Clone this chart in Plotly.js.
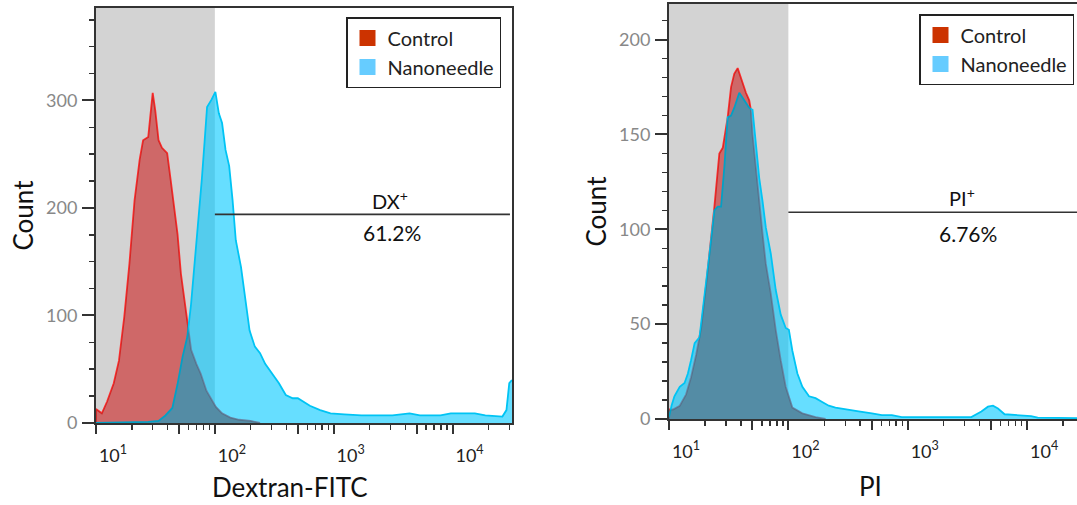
<!DOCTYPE html>
<html><head><meta charset="utf-8">
<script src="https://cdn.plot.ly/plotly-3.0.1.min.js"></script>
<style>html,body{margin:0;padding:0;background:#fff;} #chart{width:1077px;height:505px;}</style>
</head><body><div id="chart"></div>
<script>
// ---- data ----
const seriesNames = ['Control', 'Nanoneedle'];

const dxControlX = [10, 10, 11.2, 12.4, 14.1, 15.6, 17.3, 19.1, 21.1, 23.3, 24.9, 27.5, 28.8, 30.0, 31.5, 33.6, 35.9, 39.7, 42.5, 45.4, 48.5, 51.8, 55.4, 59.2, 63.2, 69.9, 76, 85, 93, 102, 115, 135, 160, 200, 240];
const dxControlY = [0, 13, 9, 20, 37, 58, 99, 148, 207, 245, 263, 266, 288, 307, 291, 263, 256, 251, 226, 201, 176, 139, 114, 89, 68, 55, 46, 30, 22, 15, 9, 5, 3, 2, 0];

const dxNanoX = [10, 27.5, 33.6, 38.4, 43.9, 48.5, 53.6, 58.6, 63, 67, 72.3, 77.6, 82, 86, 94, 101, 108, 115, 123, 132, 141, 150, 166, 180, 196, 217, 240, 265, 303, 346, 395, 452, 499, 551, 630, 769, 940, 1227, 1712, 2388, 3117, 4349, 5309, 7914, 9660, 15400, 18850, 26260, 28400, 30000, 31600];
const dxNanoY = [0, 1, 2, 7, 14, 36, 62, 80, 110, 142, 185, 226, 262, 294, 301, 308, 288, 279, 254, 239, 207, 170, 145, 114, 86, 71, 65, 55, 46, 37, 26, 23, 23, 20, 16, 12, 9, 8, 7, 7, 7, 9, 7, 7, 9, 9, 7, 6, 12, 37, 40];

const piControlX = [10, 10, 10.8, 12.3, 13.9, 15.3, 16.9, 18.6, 20.5, 22.5, 24.0, 26.4, 28.2, 30.1, 31.0, 33.1, 35.2, 37.6, 40.8, 44.1, 47.0, 48.5, 50.1, 53.4, 57.0, 60.7, 64.7, 71.3, 78.4, 86.3, 95.0, 108, 131, 169, 205];
const piControlY = [0, 5, 5, 7, 13, 22, 34, 48, 71, 94, 112, 140, 143, 154, 159, 175, 182, 185, 178, 172, 168, 163, 150, 131, 115, 98, 82, 66, 47, 31, 17, 6, 3, 1, 0];

const piNanoX = [10, 10.5, 11.1, 12.3, 13.5, 14.4, 15.3, 16.4, 18.0, 19.2, 20.5, 22.5, 24.0, 25.6, 27.3, 29.1, 31.0, 33.1, 35.2, 37.6, 38.8, 42.7, 47.0, 50.1, 53.4, 57.0, 60.7, 64.7, 71.3, 78.4, 86.3, 95.0, 101, 108, 119, 131, 149, 169, 192, 218, 248, 300, 388, 501, 607, 736, 891, 1227, 1690, 2643, 3412, 4140, 4700, 5180, 5700, 6480, 8360, 10800, 12270, 18000, 26200];
const piNanoY = [1, 7, 12, 17, 19, 24, 31, 40, 43, 57, 74, 94, 110, 112, 112, 133, 159, 160, 164, 170, 172, 168, 164, 163, 143, 127, 115, 101, 87, 68, 55, 48, 47, 36, 24, 17, 12, 11, 9, 7, 6, 5, 4, 3, 2, 2, 1, 1, 1, 1, 1, 4, 6.5, 7, 5.5, 2.5, 2, 1.5, 0.7, 0.5, 0.5];

const xMajorTicks = [10, 50, 100, 500, 1000, 5000, 10000];
const xMajorLabels = ['10<sup>1</sup>', '', '10<sup>2</sup>', '', '10<sup>3</sup>', '', '10<sup>4</sup>'];
const xMinorTicks = [20, 30, 40, 60, 70, 80, 90, 200, 300, 400, 600, 700, 800, 900, 2000, 3000, 4000, 6000, 7000, 8000, 9000, 20000, 30000];

const gateLow = 100;
const dxGateLabel = 'DX<sup>+</sup>', dxGatePct = '61.2%';
const piGateLabel = 'PI<sup>+</sup>', piGatePct = '6.76%';
const dxTitle = 'Dextran-FITC', piTitle = 'PI', countTitle = 'Count';

// ---- styling ----
const FONT = 'Lato, "Open Sans", sans-serif';
const W = 1077, H = 505;
const ctrlFill = 'rgb(255,125,128)', ctrlLine = '#ff2d2d';
const nanoFill = 'rgba(0,200,255,0.6)', nanoLine = '#00c4f4';
const overlapShade = 'rgba(15,20,10,0.2)';
const legCtrl = '#cc3300', legNano = '#66ccff';
const axisCol = '#333';

function histTrace(x, y, fill, line, xa, ya) {
  return {type: 'scatter', mode: 'lines', x: x, y: y, fill: 'tozeroy', fillcolor: fill,
    line: {color: line, width: line === 'rgba(0,0,0,0)' ? 0 : 1.8}, xaxis: xa, yaxis: ya, showlegend: false, hoverinfo: 'skip'};
}
function legTrace(name, color, xa, ya, leg) {
  return {type: 'scatter', mode: 'markers', x: [null], y: [null], name: name,
    marker: {symbol: 'square', size: 16, color: color}, xaxis: xa, yaxis: ya, legend: leg, showlegend: true};
}

const data = [
  histTrace(dxControlX, dxControlY, ctrlFill, ctrlLine, 'x', 'y'),
  histTrace(dxNanoX, dxNanoY, nanoFill, nanoLine, 'x', 'y'),
  histTrace(dxControlX, dxControlY, overlapShade, 'rgba(0,0,0,0)', 'x', 'y'),
  histTrace(piControlX, piControlY, ctrlFill, ctrlLine, 'x2', 'y2'),
  histTrace(piNanoX, piNanoY, nanoFill, nanoLine, 'x2', 'y2'),
  histTrace(piControlX, piControlY, overlapShade, 'rgba(0,0,0,0)', 'x2', 'y2'),
  legTrace(seriesNames[0], legCtrl, 'x', 'y', 'legend'),
  legTrace(seriesNames[1], legNano, 'x', 'y', 'legend'),
  legTrace(seriesNames[0], legCtrl, 'x2', 'y2', 'legend2'),
  legTrace(seriesNames[1], legNano, 'x2', 'y2', 'legend2')
];

function xAxis(domain, range, anchor) {
  return {type: 'log', domain: domain, range: range, anchor: anchor, tickmode: 'array', tickvals: xMajorTicks, ticktext: xMajorLabels,
    ticks: 'outside', ticklen: 9, tickwidth: 2, tickcolor: axisCol,
    minor: {tickmode: 'array', tickvals: xMinorTicks, ticks: 'outside', ticklen: 5, tickwidth: 1.5, tickcolor: axisCol, showgrid: false},
    ticklabelshift: 17, ticklabelstandoff: 6,
    tickfont: {family: FONT, size: 18, color: '#222'},
    showline: true, linecolor: axisCol, linewidth: 2, mirror: true, showgrid: false, zeroline: false, fixedrange: true};
}
function yAxis(domain, range, dtick, minor, mirror, anchor) {
  return {domain: domain, range: range, anchor: anchor, tick0: 0, dtick: dtick, ticks: 'outside', ticklen: 12, tickwidth: 2, tickcolor: axisCol,
    minor: {dtick: minor, tick0: 0, ticks: 'outside', ticklen: 5, tickwidth: 1.5, tickcolor: axisCol, showgrid: false},
    tickfont: {family: FONT, size: 18, color: '#888'}, ticklabelstandoff: 1,
    showline: true, linecolor: axisCol, linewidth: 2, mirror: mirror, showgrid: false, zeroline: false, fixedrange: true,
    title: {text: countTitle, font: {family: FONT, size: 26, color: '#111'}, standoff: 5}};
}

const layout = {
  width: W, height: H, autosize: false,
  margin: {l: 0, r: 0, t: 0, b: 0, pad: 0},
  paper_bgcolor: '#fff', plot_bgcolor: '#fff',
  font: {family: FONT},
  xaxis: xAxis([96 / W, 512 / W], [1, 4.5], 'y'),
  yaxis: yAxis([1 - 423 / H, 1 - 8 / H], [0, 386], 100, 25, true, 'x'),
  xaxis2: xAxis([669 / W, 1], [1, 4.418], 'y2'),
  yaxis2: yAxis([1 - 419 / H, 1 - 4 / H], [0, 218.8], 50, 10, false, 'x2'),
  shapes: [
    {type: 'rect', xref: 'x', yref: 'y domain', x0: 10, x1: gateLow, y0: 0, y1: 1, fillcolor: '#d3d3d3', line: {width: 0}, layer: 'below'},
    {type: 'rect', xref: 'x2', yref: 'y2 domain', x0: 10, x1: gateLow, y0: 0, y1: 1, fillcolor: '#d3d3d3', line: {width: 0}, layer: 'below'},
    {type: 'line', xref: 'x', yref: 'y', x0: gateLow, x1: 30400, y0: 194, y1: 194, line: {color: axisCol, width: 1.6}, layer: 'above'},
    {type: 'line', xref: 'x2', yref: 'y2', x0: gateLow, x1: 26200, y0: 109, y1: 109, line: {color: axisCol, width: 1.6}, layer: 'above'}
  ],
  annotations: [
    {xref: 'x', yref: 'y', x: 3.473, y: 207, text: dxGateLabel, showarrow: false, font: {family: FONT, size: 20, color: '#111'}},
    {xref: 'x', yref: 'y', x: 3.49, y: 177, text: dxGatePct, showarrow: false, font: {family: FONT, size: 21, color: '#111'}},
    {xref: 'x2', yref: 'y2', x: 3.452, y: 117, text: piGateLabel, showarrow: false, font: {family: FONT, size: 20, color: '#111'}},
    {xref: 'x2', yref: 'y2', x: 3.502, y: 98, text: piGatePct, showarrow: false, font: {family: FONT, size: 21, color: '#111'}},
    {xref: 'paper', yref: 'paper', x: 290 / W, y: 1 - 487 / H, xanchor: 'center', yanchor: 'middle', text: dxTitle, showarrow: false,
      font: {family: FONT, size: 26, color: '#111'}},
    {xref: 'paper', yref: 'paper', x: 870 / W, y: 1 - 486 / H, xanchor: 'center', yanchor: 'middle', text: piTitle, showarrow: false,
      font: {family: FONT, size: 26, color: '#111'}}
  ],
  legend: {x: 346 / W, y: 1 - 17 / H, xanchor: 'left', yanchor: 'top', bgcolor: '#fff', bordercolor: '#222', borderwidth: 1.5,
    font: {family: FONT, size: 20, color: '#222'}, itemwidth: 30},
  legend2: {x: 919 / W, y: 1 - 14 / H, xanchor: 'left', yanchor: 'top', bgcolor: '#fff', bordercolor: '#222', borderwidth: 1.5,
    font: {family: FONT, size: 20, color: '#222'}, itemwidth: 30}
};

Plotly.newPlot('chart', data, layout, {displayModeBar: false, staticPlot: true});
</script>
</body></html>
